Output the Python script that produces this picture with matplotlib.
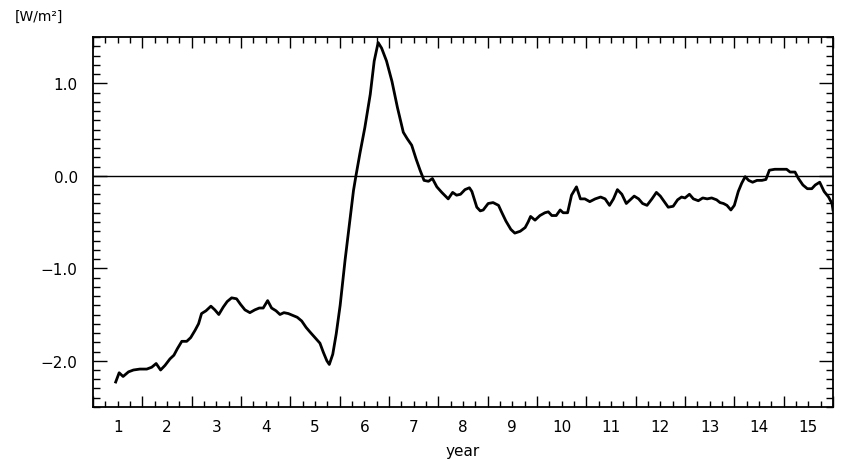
import matplotlib
matplotlib.use('Agg')
import matplotlib.pyplot as plt
from matplotlib.ticker import MultipleLocator, FuncFormatter, NullFormatter

# time axis in years, values in W/m2
years = [0.46, 0.53, 0.61, 0.72, 0.82, 0.95, 1.09, 1.19, 1.28, 1.37, 1.46, 1.56,
         1.64, 1.71, 1.80, 1.90, 1.98, 2.07, 2.14, 2.20, 2.29, 2.39, 2.47, 2.55,
         2.64, 2.72, 2.81, 2.91, 2.99, 3.08, 3.18, 3.28, 3.37, 3.45, 3.54, 3.62,
         3.71, 3.79, 3.87, 3.96, 4.05, 4.14, 4.23, 4.32, 4.40, 4.50, 4.60, 4.67,
         4.74, 4.79, 4.86, 4.93, 5.01, 5.11, 5.20, 5.28, 5.33, 5.41, 5.51, 5.62,
         5.70, 5.78, 5.85, 5.95, 6.06, 6.17, 6.29, 6.37, 6.46, 6.55, 6.63, 6.71,
         6.80, 6.88, 6.97, 7.07, 7.20, 7.29, 7.37, 7.45, 7.54, 7.63, 7.68, 7.78,
         7.85, 7.91, 8.01, 8.11, 8.22, 8.28, 8.37, 8.47, 8.55, 8.66, 8.76, 8.82,
         8.87, 8.96, 9.06, 9.16, 9.23, 9.30, 9.39, 9.47, 9.53, 9.62, 9.70, 9.80,
         9.88, 9.97, 10.07, 10.18, 10.29, 10.38, 10.47, 10.55, 10.63, 10.72, 10.81,
         10.89, 10.97, 11.06, 11.14, 11.23, 11.33, 11.42, 11.50, 11.58, 11.66,
         11.76, 11.85, 11.93, 12.00, 12.09, 12.17, 12.27, 12.36, 12.45, 12.54,
         12.64, 12.71, 12.78, 12.85, 12.93, 13.00, 13.08, 13.15, 13.22, 13.29,
         13.37, 13.46, 13.56, 13.64, 13.71, 13.82, 13.96, 14.06, 14.13, 14.23,
         14.30, 14.39, 14.48, 14.57, 14.64, 14.73, 14.82, 14.91, 14.98, 15.00]
flux = [-2.23, -2.13, -2.17, -2.12, -2.10, -2.09, -2.09, -2.07, -2.03, -2.10, -2.05, -1.98,
        -1.94, -1.87, -1.79, -1.79, -1.75, -1.67, -1.60, -1.49, -1.46, -1.41, -1.45, -1.50,
        -1.42, -1.36, -1.32, -1.33, -1.39, -1.45, -1.48, -1.45, -1.43, -1.43, -1.35, -1.43,
        -1.46, -1.50, -1.48, -1.49, -1.51, -1.53, -1.57, -1.64, -1.69, -1.75, -1.81, -1.91,
        -2.00, -2.04, -1.93, -1.71, -1.40, -0.91, -0.51, -0.16, 0.00, 0.24, 0.52, 0.88,
        1.24, 1.44, 1.38, 1.24, 1.02, 0.74, 0.47, 0.40, 0.33, 0.18, 0.06, -0.05,
        -0.06, -0.03, -0.12, -0.18, -0.25, -0.18, -0.21, -0.20, -0.15, -0.13, -0.17, -0.34,
        -0.38, -0.37, -0.30, -0.29, -0.32, -0.39, -0.49, -0.58, -0.62, -0.60, -0.56, -0.50,
        -0.44, -0.48, -0.43, -0.40, -0.39, -0.43, -0.43, -0.37, -0.40, -0.40, -0.21, -0.12,
        -0.25, -0.25, -0.28, -0.25, -0.23, -0.25, -0.32, -0.25, -0.15, -0.20, -0.30,
        -0.26, -0.22, -0.25, -0.30, -0.32, -0.25, -0.18, -0.22, -0.28, -0.34,
        -0.33, -0.26, -0.23, -0.24, -0.20, -0.25, -0.27, -0.24, -0.25, -0.24,
        -0.26, -0.29, -0.30, -0.32, -0.37, -0.32, -0.17, -0.08, -0.01, -0.05,
        -0.07, -0.05, -0.05, -0.04, 0.06, 0.07, 0.07, 0.07, 0.04, 0.04,
        -0.03, -0.10, -0.14, -0.14, -0.10, -0.07, -0.17, -0.23, -0.30, -0.37]

plt.rcParams['font.family'] = 'DejaVu Sans'

fig = plt.figure(figsize=(8.41, 4.6), dpi=100)
ax = fig.add_axes([93 / 841, 1 - 408 / 460, 740 / 841, 370 / 460])

ax.axhline(0, color='black', lw=1.0)
ax.plot(years, flux, color='black', lw=2.0)

ax.set_xlim(0, 15)
ax.set_ylim(-2.5, 1.5)

# year boundaries get the long ticks, labels sit in the middle of each year
ax.xaxis.set_major_locator(MultipleLocator(1))
ax.xaxis.set_major_formatter(NullFormatter())
ax.xaxis.set_minor_locator(MultipleLocator(0.25))
ax.xaxis.set_minor_formatter(FuncFormatter(
    lambda x, pos: str(int(round(x + 0.5))) if abs((x % 1) - 0.5) < 1e-6 else ''))

ax.yaxis.set_major_locator(MultipleLocator(1))
ax.yaxis.set_major_formatter(FuncFormatter(lambda y, pos: ('%.1f' % y).replace('-', '\u2212')))
ax.yaxis.set_minor_locator(MultipleLocator(0.1))

ax.tick_params(which='both', direction='in', top=True, right=True, width=1.0,
               labelsize=11, colors='black')
ax.tick_params(axis='y', which='major', length=10, pad=11)
ax.tick_params(axis='y', which='minor', length=5)
ax.tick_params(axis='x', which='major', length=8, pad=7)
ax.tick_params(axis='x', which='minor', length=4, pad=9)
for sp in ax.spines.values():
    sp.set_linewidth(1.3)

ax.set_xlabel('year', fontsize=11, labelpad=6)
fig.text(15 / 841, 1 - 17 / 460, '[W/m²]', fontsize=10, va='center', ha='left')

fig.savefig('out.png', dpi=100)
